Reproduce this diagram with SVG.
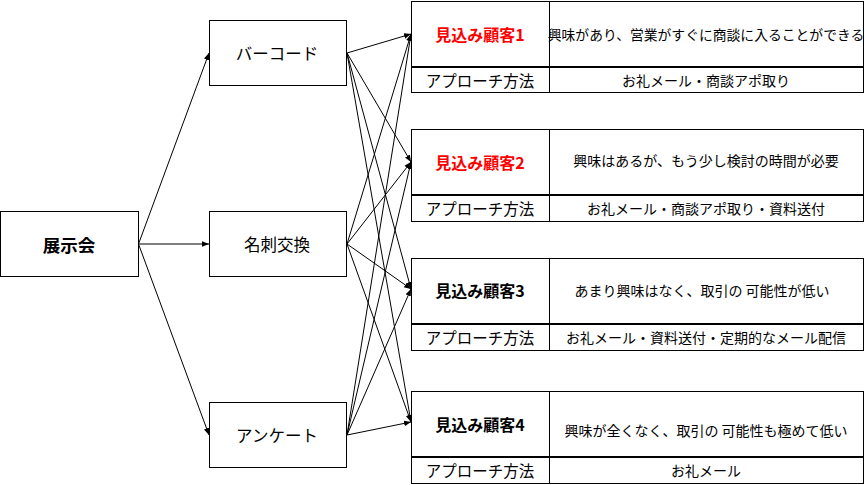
<svg xmlns="http://www.w3.org/2000/svg" width="865" height="485" viewBox="0 0 865 485">
<style>
.box{fill:#fff;stroke:#000;stroke-width:1}
.t{font-family:"Noto Sans CJK JP","Noto Sans CJK SC",sans-serif;font-size:14px;fill:#000;text-anchor:middle;dominant-baseline:central}
.m{font-size:16.5px}
.ap{font-size:15.5px}
.b{font-weight:bold;font-size:16px}
.big{font-size:17.5px}
.red{fill:#ff0000}
.c{stroke:#000;stroke-width:1;fill:none;marker-end:url(#ah)}
.div{stroke:#000;stroke-width:2}
</style>
<defs>
<marker id="ah" viewBox="0 0 10 10" refX="10" refY="5" markerWidth="7" markerHeight="7" markerUnits="userSpaceOnUse" orient="auto">
<path d="M0,1 L10,5 L0,9 z" fill="#000"/>
</marker>
</defs>
<rect width="865" height="485" fill="#fff"/>
<g id="connectors">
<line class="c" x1="138.5" y1="244" x2="209" y2="53"/>
<line class="c" x1="138.5" y1="244" x2="209" y2="244"/>
<line class="c" x1="138.5" y1="244" x2="209" y2="435"/>
<line class="c" x1="347" y1="53" x2="411" y2="34"/>
<line class="c" x1="347" y1="53" x2="411" y2="162"/>
<line class="c" x1="347" y1="53" x2="411" y2="289"/>
<line class="c" x1="347" y1="53" x2="411" y2="422"/>
<line class="c" x1="347" y1="244" x2="411" y2="34"/>
<line class="c" x1="347" y1="244" x2="411" y2="162"/>
<line class="c" x1="347" y1="244" x2="411" y2="289"/>
<line class="c" x1="347" y1="244" x2="411" y2="422"/>
<line class="c" x1="347" y1="435" x2="411" y2="34"/>
<line class="c" x1="347" y1="435" x2="411" y2="162"/>
<line class="c" x1="347" y1="435" x2="411" y2="289"/>
<line class="c" x1="347" y1="435" x2="411" y2="422"/>
</g>
<g id="tenjikai">
<rect class="box" x="0.5" y="211.5" width="138" height="65"/>
<text class="t b big" x="69" y="244">展示会</text>
</g>
<g id="barcode">
<rect class="box" x="209.5" y="20.5" width="137" height="65"/>
<text class="t m" x="277" y="53">バーコード</text>
</g>
<g id="meishi">
<rect class="box" x="209.5" y="211.5" width="137" height="65"/>
<text class="t m" x="277" y="244">名刺交換</text>
</g>
<g id="enquete">
<rect class="box" x="209.5" y="402.5" width="137" height="65"/>
<text class="t m" x="277" y="435">アンケート</text>
</g>
<g id="customer1">
<rect class="box" x="411.5" y="1.5" width="452" height="91"/>
<line class="div" x1="411.5" y1="67" x2="863.5" y2="67"/>
<line class="box" x1="549.5" y1="1.5" x2="549.5" y2="92.5"/>
<text class="t b red" x="480" y="34">見込み顧客1</text>
<text class="t" x="706" y="34" style="font-size:13.8px">興味があり、営業がすぐに商談に入ることができる</text>
<text class="t ap" x="480" y="80">アプローチ方法</text>
<text class="t" x="706" y="80">お礼メール・商談アポ取り</text>
</g>
<g id="customer2">
<rect class="box" x="411.5" y="129.5" width="452" height="92"/>
<line class="div" x1="411.5" y1="195" x2="863.5" y2="195"/>
<line class="box" x1="549.5" y1="129.5" x2="549.5" y2="221.5"/>
<text class="t b red" x="480" y="162">見込み顧客2</text>
<text class="t" x="706" y="160">興味はあるが、もう少し検討の時間が必要</text>
<text class="t ap" x="480" y="208">アプローチ方法</text>
<text class="t" x="706" y="208">お礼メール・商談アポ取り・資料送付</text>
</g>
<g id="customer3">
<rect class="box" x="411.5" y="258.5" width="452" height="92"/>
<line class="div" x1="411.5" y1="324" x2="863.5" y2="324"/>
<line class="box" x1="549.5" y1="258.5" x2="549.5" y2="350.5"/>
<text class="t b" x="480" y="290">見込み顧客3</text>
<text class="t" x="702" y="290">あまり興味はなく、取引の 可能性が低い</text>
<text class="t ap" x="480" y="337">アプローチ方法</text>
<text class="t" x="706" y="337">お礼メール・資料送付・定期的なメール配信</text>
</g>
<g id="customer4">
<rect class="box" x="411.5" y="391.5" width="452" height="92"/>
<line class="div" x1="411.5" y1="457" x2="863.5" y2="457"/>
<line class="box" x1="549.5" y1="391.5" x2="549.5" y2="483.5"/>
<text class="t b" x="480" y="424">見込み顧客4</text>
<text class="t" x="706" y="430">興味が全くなく、取引の 可能性も極めて低い</text>
<text class="t ap" x="480" y="470">アプローチ方法</text>
<text class="t" x="706" y="470">お礼メール</text>
</g>
</svg>
